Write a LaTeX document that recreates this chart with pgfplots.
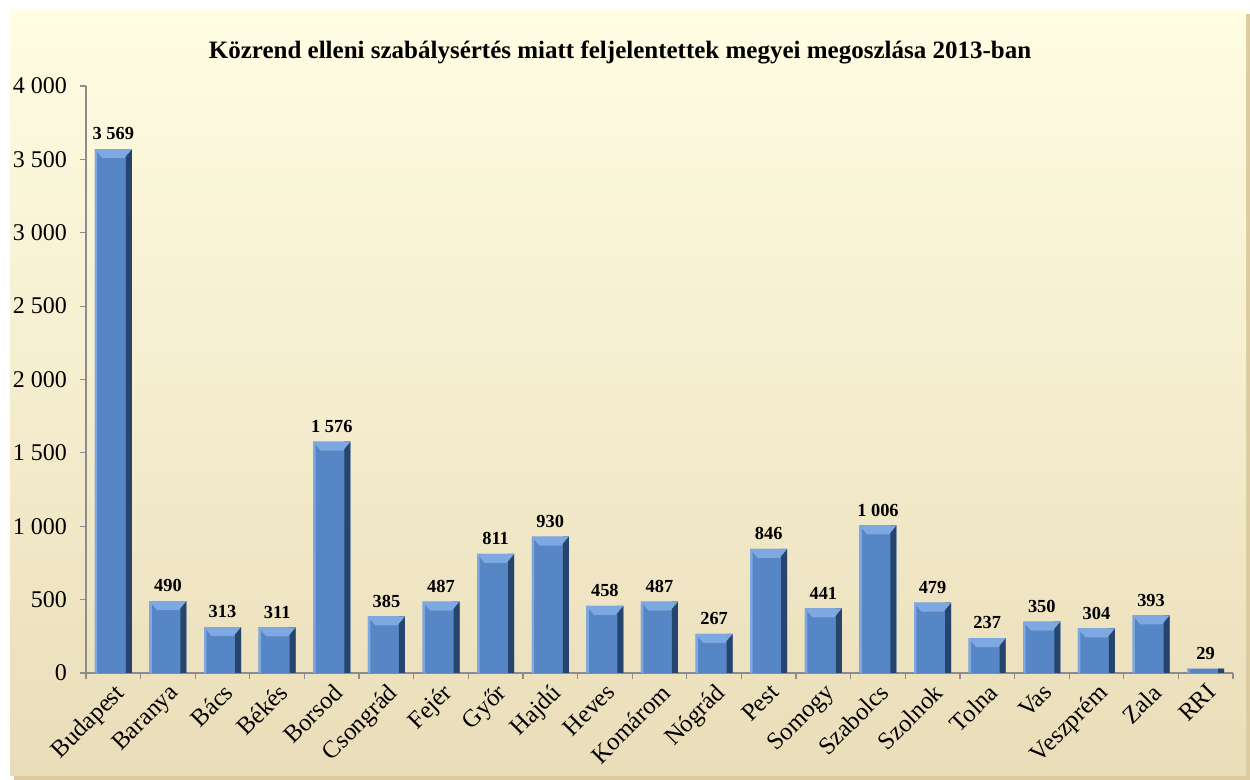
\documentclass[border=0pt]{standalone}
\usepackage{fontspec}
\setmainfont{Liberation Serif}
\usepackage{pgfplots}
\usepackage{pgfplotstable}
\pgfplotsset{compat=1.18}
\definecolor{bgtop}{HTML}{FFFDE3}
\definecolor{bgbot}{HTML}{EADDB9}
\definecolor{shadowc}{HTML}{DCCB9E}
\definecolor{axisgray}{HTML}{8C8C8C}
\definecolor{barlight}{HTML}{7DA8E2}
\definecolor{barface}{HTML}{5686C6}
\definecolor{bardark}{HTML}{27446C}

% light top bevel of each bar, hung below the bar top
\pgfdeclareplotmark{bevel}{%
  \pgfpathmoveto{\pgfpoint{-9.25pt}{0pt}}%
  \pgfpathlineto{\pgfpoint{9.25pt}{0pt}}%
  \pgfpathlineto{\pgfpoint{5.5pt}{-4.5pt}}%
  \pgfpathlineto{\pgfpoint{-5.5pt}{-4.5pt}}%
  \pgfpathclose\pgfusepathqfill}

\pgfplotstableread{
x y
0 3569
1 490
2 313
3 311
4 1576
5 385
6 487
7 811
8 930
9 458
10 487
11 267
12 846
13 441
14 1006
15 479
16 237
17 350
18 304
19 393
20 29
}\counts

\begin{document}
\begin{tikzpicture}
\path[use as bounding box] (0pt,0pt) rectangle (625pt,390pt);
% frame with shadow
\fill[shadowc] (7pt,0pt) rectangle (625pt,383pt);
\fill[top color=bgtop, bottom color=bgbot] (5pt,2pt) rectangle (623pt,385pt);
\node[font=\bfseries\fontsize{12.5}{14}\selectfont] at (310pt,364pt)
  {Közrend elleni szabálysértés miatt feljelentettek megyei megoszlása 2013-ban};

\begin{axis}[
  at={(43pt,53.5pt)}, anchor=south west,
  scale only axis, width=573.5pt, height=293.5pt,
  xmin=-0.5, xmax=20.5, ymin=0, ymax=4000,
  axis x line*=bottom, axis y line*=left,
  axis line style={draw=axisgray, line width=0.6pt},
  tick style={draw=axisgray, line width=0.6pt},
  tick align=outside,
  major tick length=3pt, minor tick length=3pt,
  xtick={0,...,20},
  major x tick style={draw=none},
  minor xtick={-0.5,0.5,...,20.5},
  xticklabels={Budapest,Baranya,Bács,Békés,Borsod,Csongrád,Fejér,Győr,Hajdú,Heves,Komárom,Nógrád,Pest,Somogy,Szabolcs,Szolnok,Tolna,Vas,Veszprém,Zala,RRI},
  x tick label style={rotate=45, anchor=north east, inner sep=1pt, font=\fontsize{12.3}{13}\selectfont},
  ytick={0,500,...,4000},
  scaled y ticks=false,
  y tick label style={font=\fontsize{12}{13}\selectfont, xshift=-3pt},
  /pgf/number format/assume math mode=true,
  /pgf/number format/1000 sep={\ },
]
% bar face
\addplot[ybar, bar width=18.5pt, bar shift=0pt, draw=none, fill=barface,
  nodes near coords,
  nodes near coords style={font=\bfseries\fontsize{9.2}{10}\selectfont, yshift=1pt}]
  table[x=x, y=y] {\counts};
% light left edge
\addplot[ybar, bar width=1.2pt, bar shift=-8.65pt, draw=none, fill=barlight]
  table[x=x, y=y] {\counts};
% dark right edge
\addplot[ybar, bar width=3pt, bar shift=7.75pt, draw=none, fill=bardark]
  table[x=x, y=y] {\counts};
% top bevel
\addplot[only marks, mark=bevel, color=barlight]
  table[x=x, y=y, restrict x to domain=0:19] {\counts};
\end{axis}
\end{tikzpicture}
\end{document}
